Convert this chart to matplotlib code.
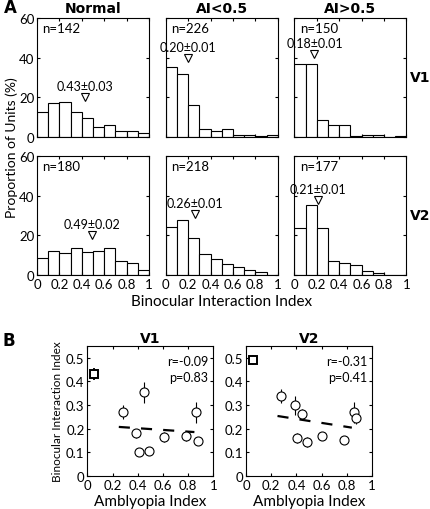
import numpy as np
import matplotlib
matplotlib.use('Agg')
import matplotlib.pyplot as plt

plt.rcParams.update({
    'font.family': ['Lato', 'DejaVu Sans'], 'font.size': 9,
    'xtick.direction': 'in', 'ytick.direction': 'in',
    'xtick.top': True, 'ytick.right': True,
    'xtick.major.size': 2.5, 'ytick.major.size': 2.5,
    'axes.linewidth': 0.8,
})
HEAVY = dict(fontweight='bold', fontsize=10, family='DejaVu Sans')

# ---------------------------------------------------------------------------
# Panel A: histograms of binocular interaction index (10 bins, 0..1)
# ---------------------------------------------------------------------------
groups = ["Normal", "AI<0.5", "AI>0.5"]
areas = ["V1", "V2"]
bin_edges = np.linspace(0, 1, 11)

v1_normal = [12.7, 16.9, 17.4, 12.7, 9.8, 4.9, 6.2, 3.2, 3.2, 2.2]
v1_low    = [35.5, 31.6, 15.9, 3.9, 3.2, 4.2, 1.0, 1.0, 0.7, 1.2]
v1_high   = [36.7, 36.7, 8.4, 6.2, 6.2, 0.5, 1.2, 1.2, 0.0, 0.5]
v2_normal = [8.4, 12.1, 10.9, 13.8, 11.6, 12.1, 13.8, 7.1, 5.9, 2.5]
v2_low    = [24.4, 27.6, 18.7, 10.8, 7.9, 5.4, 4.2, 2.4, 1.7, 0.0]
v2_high   = [23.5, 35.3, 23.5, 7.1, 6.2, 4.9, 2.0, 1.0, 0.0, 0.0]

n_units  = [[142, 226, 150], [180, 218, 177]]
mean_bii = [[0.43, 0.20, 0.18], [0.49, 0.26, 0.21]]
sem_bii  = [[0.03, 0.01, 0.01], [0.02, 0.01, 0.01]]
marker_y = [[20, 40, 42], [20, 31, 38]]

hists = [[v1_normal, v1_low, v1_high], [v2_normal, v2_low, v2_high]]

# ---------------------------------------------------------------------------
# Panel B: BII vs amblyopia index per animal
# ---------------------------------------------------------------------------
v1_ai   = [0.28, 0.385, 0.41, 0.45, 0.49, 0.605, 0.78, 0.86, 0.88]
v1_bii  = [0.27, 0.18, 0.10, 0.354, 0.105, 0.165, 0.17, 0.27, 0.15]
v1_err  = [0.03, 0.02, 0.005, 0.045, 0.005, 0.02, 0.02, 0.045, 0.01]
v2_ai   = [0.28, 0.387, 0.408, 0.447, 0.487, 0.605, 0.78, 0.86, 0.87]
v2_bii  = [0.339, 0.30, 0.161, 0.263, 0.143, 0.171, 0.153, 0.269, 0.246]
v2_err  = [0.03, 0.04, 0.02, 0.02, 0.02, 0.015, 0.01, 0.045, 0.025]
normal_ai = 0.055
normal_b  = [0.43, 0.49]
normal_e  = [0.025, 0.02]
stats_r = ["-0.09", "-0.31"]
stats_p = ["0.83", "0.41"]

W, H = 430, 510
fig = plt.figure(figsize=(W / 100, H / 100), dpi=100)

col_left = [37, 165.7, 294.3]
row_top = [19, 157]
aw, ah = 112, 119

for r in range(2):
    for c in range(3):
        ax = fig.add_axes([col_left[c] / W, 1 - (row_top[r] + ah) / H, aw / W, ah / H])
        ax.bar(bin_edges[:-1], hists[r][c], width=0.1, align='edge',
               color='white', edgecolor='black', linewidth=0.8)
        ax.set_xlim(0, 1)
        ax.set_ylim(0, 60)
        ax.set_xticks(np.arange(0, 1.01, 0.2))
        ax.set_yticks([0, 20, 40, 60])
        ax.tick_params(labelsize=9.5, pad=2)
        if r == 1:
            ax.set_xticklabels(["0", "0.2", "0.4", "0.6", "0.8", "1"])
        else:
            ax.set_xticklabels([])
        if c > 0:
            ax.set_yticklabels([])
        m = mean_bii[r][c]
        ax.plot(m, marker_y[r][c], marker='v', ms=5.5, mfc='white', mec='black', mew=0.8)
        ax.text(m, marker_y[r][c] + 2.5, f"{m:.2f}\u00b1{sem_bii[r][c]:.2f}",
                ha='center', va='bottom', fontsize=9)
        ax.text(0.05, 0.965, f"n={n_units[r][c]}", transform=ax.transAxes,
                ha='left', va='top', fontsize=9.5)
        if r == 0:
            ax.set_title(groups[c], pad=4, **HEAVY)
    fig.text(420 / W, 1 - (row_top[r] + ah / 2) / H, areas[r],
             ha='center', va='center', **HEAVY)

fig.text(4 / W, 1 - 8 / H, "A", va='center', fontweight='bold', fontsize=12,
         family='DejaVu Sans')
fig.text(3 / W, 1 - 341 / H, "B", va='center', fontweight='bold', fontsize=12,
         family='DejaVu Sans')
fig.text(12 / W, 1 - 148 / H, "Proportion of Units (%)", rotation=90,
         ha='center', va='center', fontsize=10)
fig.text(222 / W, 1 - 302 / H, "Binocular Interaction Index",
         ha='center', va='center', fontsize=11)

b_data = [(v1_ai, v1_bii, v1_err), (v2_ai, v2_bii, v2_err)]
b_left = [87.3, 246]
for i in range(2):
    ax = fig.add_axes([b_left[i] / W, 1 - 477 / H, 126 / W, 130 / H])
    x, y, e = map(np.array, b_data[i])
    ax.errorbar(x, y, yerr=e, fmt='o', ms=6.5, mfc='white', mec='black',
                ecolor='black', elinewidth=0.8, mew=0.8, capsize=0, zorder=3)
    ax.errorbar([normal_ai], [normal_b[i]], yerr=[normal_e[i]], fmt='s', ms=5.5,
                mfc='white', mec='black', ecolor='black', elinewidth=1.3,
                mew=1.4, capsize=0, zorder=3)
    k, b0 = np.polyfit(x, y, 1)
    xs = np.array([x.min() - 0.03, x.max() - 0.03])
    ax.plot(xs, k * xs + b0, color='black', lw=1.6, ls=(0, (5, 5)), zorder=2)
    ax.set_xlim(0, 1)
    ax.set_ylim(0, 0.55)
    ax.set_xticks(np.arange(0, 1.01, 0.2))
    ax.set_xticklabels(["0", "0.2", "0.4", "0.6", "0.8", "1"])
    ax.set_yticks(np.arange(0, 0.51, 0.1))
    ax.set_yticklabels(["0", "0.1", "0.2", "0.3", "0.4", "0.5"])
    ax.tick_params(labelsize=9.5, pad=2)
    ax.set_title(areas[i], pad=3, **HEAVY)
    ax.set_xlabel("Amblyopia Index", fontsize=11, labelpad=2)
    ax.text(0.96, 0.93, f"r={stats_r[i]}\np={stats_p[i]}", transform=ax.transAxes,
            ha='right', va='top', fontsize=9, linespacing=1.4)
    if i == 0:
        ax.set_ylabel("Binocular Interaction Index", fontsize=8.5, labelpad=2)

fig.savefig("out.png", dpi=100)
